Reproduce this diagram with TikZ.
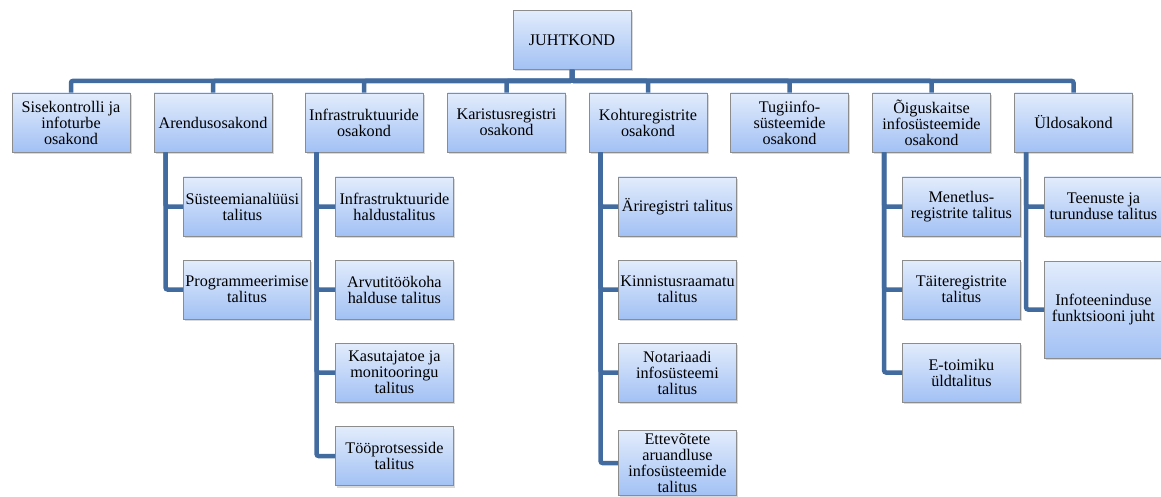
\documentclass[tikz,border=0pt]{standalone}
\usepackage{fontspec}
\setmainfont{Liberation Serif}
\usepackage{tikz}
\usetikzlibrary{calc, shadows, positioning}
\definecolor{boxTop}{RGB}{226,236,252}
\definecolor{boxBottom}{RGB}{162,193,244}
\definecolor{boxEdge}{gray}{0.55}
\definecolor{lineBlue}{RGB}{66,107,160}

\begin{document}
\begin{tikzpicture}[x=1pt, y=-1pt,
    unitBox/.style={draw=boxEdge, line width=0.8pt, top color=boxTop, bottom color=boxBottom,
        minimum width=118pt, minimum height=59pt, inner xsep=2pt, inner ysep=3pt, align=center,
        font=\fontsize{16.2}{16}\selectfont,
        drop shadow={shadow xshift=1.5pt, shadow yshift=-2pt, opacity=0.3}},
    busLine/.style={draw=lineBlue, line width=4.5pt, rounded corners=2pt}]
    \useasboundingbox (0,0) rectangle (1161,497);

    % juhtkond
    \node[unitBox] (top) at (572,40) {JUHTKOND};

    % osakonnad
    \node[unitBox] (sise) at (71,122.5) {Sisekontrolli ja\\infoturbe\\osakond};
    \node[unitBox] (arend) at (213,122.5) {Arendusosakond};
    \node[unitBox] (infra) at (364,122.5) {Infrastruktuuride\\osakond};
    \node[unitBox] (karist) at (506.5,122.5) {Karistusregistri\\osakond};
    \node[unitBox] (kohtu) at (648,122.5) {Kohturegistrite\\osakond};
    \node[unitBox] (tugi) at (789.5,122.5) {Tugiinfo-\\süsteemide\\osakond};
    \node[unitBox] (oigus) at (931.5,122.5) {Õiguskaitse\\infosüsteemide\\osakond};
    \node[unitBox] (uld) at (1073.5,122.5) {Üldosakond};

    % talitused: arendusosakond
    \node[unitBox, anchor=west] (sysan) at (183,206.5) {Süsteemianalüüsi\\talitus};
    \node[unitBox, anchor=west, minimum width=127pt] (prog) at (183,289.5) {Programmeerimise\\talitus};

    % talitused: infrastruktuuride osakond
    \node[unitBox, anchor=west] (infhald) at (335,206.5) {Infrastruktuuride\\haldustalitus};
    \node[unitBox, anchor=west] (arvuti) at (335,289.5) {Arvutitöökoha\\halduse talitus};
    \node[unitBox, anchor=west] (kasut) at (335,372.5) {Kasutajatoe ja\\monitooringu\\talitus};
    \node[unitBox, anchor=west] (toopr) at (335,456) {Tööprotsesside\\talitus};

    % talitused: kohturegistrite osakond
    \node[unitBox, anchor=west] (ari) at (618,206.5) {Äriregistri talitus};
    \node[unitBox, anchor=west] (kinn) at (618,289.5) {Kinnistusraamatu\\talitus};
    \node[unitBox, anchor=west] (notar) at (618,372.5) {Notariaadi\\infosüsteemi\\talitus};
    \node[unitBox, anchor=west] (ettev) at (618,463) {Ettevõtete\\aruandluse\\infosüsteemide\\talitus};

    % talitused: õiguskaitse infosüsteemide osakond
    \node[unitBox, anchor=west] (menet) at (902,206.5) {Menetlus-\\registrite talitus};
    \node[unitBox, anchor=west] (taite) at (902,289.5) {Täiteregistrite\\talitus};
    \node[unitBox, anchor=west] (etoim) at (902,372.5) {E-toimiku\\üldtalitus};

    % talitused: üldosakond
    \node[unitBox, anchor=west] (teen) at (1044,206.5) {Teenuste ja\\turunduse talitus};
    \node[unitBox, anchor=west, minimum height=97pt] (infot) at (1044,309.5) {Infoteeninduse\\funktsiooni juht};

    % juhtkond -> osakonnad
    \draw[busLine] (top.south) -- ++(0,11) -| (sise.north);
    \draw[busLine] (top.south) -- ++(0,11) -| (arend.north);
    \draw[busLine] (top.south) -- ++(0,11) -| (infra.north);
    \draw[busLine] (top.south) -- ++(0,11) -| (karist.north);
    \draw[busLine] (top.south) -- ++(0,11) -| (kohtu.north);
    \draw[busLine] (top.south) -- ++(0,11) -| (tugi.north);
    \draw[busLine] (top.south) -- ++(0,11) -| (oigus.north);
    \draw[busLine] (top.south) -- ++(0,11) -| (uld.north);

    % osakonnad -> talitused
    \draw[busLine] ([xshift=12pt]arend.south west) |- (sysan.west);
    \draw[busLine] ([xshift=12pt]arend.south west) |- (prog.west);
    \draw[busLine] ([xshift=12pt]infra.south west) |- (infhald.west);
    \draw[busLine] ([xshift=12pt]infra.south west) |- (arvuti.west);
    \draw[busLine] ([xshift=12pt]infra.south west) |- (kasut.west);
    \draw[busLine] ([xshift=12pt]infra.south west) |- (toopr.west);
    \draw[busLine] ([xshift=12pt]kohtu.south west) |- (ari.west);
    \draw[busLine] ([xshift=12pt]kohtu.south west) |- (kinn.west);
    \draw[busLine] ([xshift=12pt]kohtu.south west) |- (notar.west);
    \draw[busLine] ([xshift=12pt]kohtu.south west) |- (ettev.west);
    \draw[busLine] ([xshift=12pt]oigus.south west) |- (menet.west);
    \draw[busLine] ([xshift=12pt]oigus.south west) |- (taite.west);
    \draw[busLine] ([xshift=12pt]oigus.south west) |- (etoim.west);
    \draw[busLine] ([xshift=12pt]uld.south west) |- (teen.west);
    \draw[busLine] ([xshift=12pt]uld.south west) |- (infot.west);
\end{tikzpicture}
\end{document}
